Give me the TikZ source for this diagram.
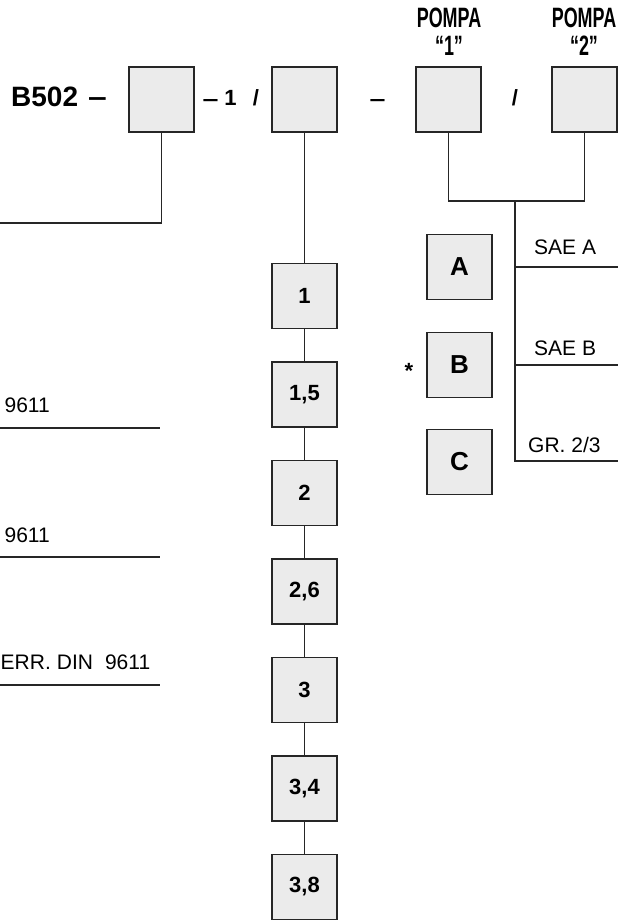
\documentclass[tikz,border=0pt]{standalone}
\usepackage{fontspec}
\setmainfont{Liberation Sans}
\begin{document}
\begin{tikzpicture}[x=1pt,y=-1pt,
  box/.style={draw=black!85, line width=1.8pt, fill=black!8, minimum size=65pt, inner sep=0pt, font=\bfseries\fontsize{22}{22}\selectfont},
  ln/.style={line width=1.8pt, draw=black!85},
  lbl/.style={inner sep=0pt, font=\fontsize{21}{21}\selectfont},
  blbl/.style={inner sep=0pt, font=\bfseries\fontsize{28}{28}\selectfont},
  dlbl/.style={inner sep=0pt, font=\bfseries\fontsize{22}{22}\selectfont},
  pompa/.style={inner sep=0pt, xscale=0.64, font=\bfseries\fontsize{28}{28}\selectfont}]
\useasboundingbox (0,0) rectangle (618,920);
% top row
\node[box] (b1) at (161.5,99.5) {};
\node[box] (b2) at (304.5,99.5) {};
\node[box] (b3) at (448.5,99.5) {};
\node[box] (b4) at (584.5,99.5) {};
\node[blbl, anchor=base west] (t0) at (11,107) {B502};
\node[blbl, anchor=base, xscale=1.2] (d0) at (97.5,107) {–};
\node[dlbl, anchor=base, xscale=1.3] (d1) at (210.5,107) {–};
\node[dlbl, anchor=base] (d1b) at (230.5,106) {1};
\node[dlbl, anchor=base] (d1c) at (256,106) {/};
\node[dlbl, anchor=base, xscale=1.3] (t2) at (377.5,107) {–};
\node[dlbl, anchor=base] (t3) at (515,106) {/};
\node[pompa] (p1) at (449,17.5) {POMPA};
\node[pompa] (q1) at (449,46) {“1”};
\node[pompa] (p2) at (584,17.5) {POMPA};
\node[pompa] (q2) at (584,46) {“2”};
% column
\foreach \n/\t [count=\i from 0] in {c1/1,c2/{1,5},c3/2,c4/{2,6},c5/3,c6/{3,4},c7/{3,8}}
  \node[box] (\n) at (304.5,296+98.5*\i) {\t};
\draw[ln] (b2.south) -- (c1.north);
\foreach \a/\b in {c1/c2,c2/c3,c3/c4,c4/c5,c5/c6,c6/c7}
  \draw[ln] (\a.south) -- (\b.north);
% b1 connector
\coordinate (l0) at (0,223);
\draw[ln] (b1.south) |- (l0);
% left lines
\coordinate (la1) at (0,428); \coordinate (lb1) at (160,428);
\coordinate (la2) at (0,557); \coordinate (lb2) at (160,557);
\coordinate (la3) at (0,685); \coordinate (lb3) at (160,685);
\draw[ln] (la1) -- (lb1);
\draw[ln] (la2) -- (lb2);
\draw[ln] (la3) -- (lb3);
\node[lbl, anchor=base east] (s1) at (50,412) {9611};
\node[lbl, anchor=base east] (s2) at (50,542) {9611};
\node[lbl, anchor=base west] (s3) at (0.5,669) {ERR.\hspace{6pt}DIN\hspace{12pt}9611};
% pumps
\coordinate (j) at (515,201);
\draw[ln] (b3.south) |- (j) -| (b4.south);
\coordinate (ra) at (618,267); \coordinate (rb) at (618,365); \coordinate (rc) at (618,461);
\coordinate (ja) at (515,267); \coordinate (jb) at (515,365); \coordinate (jc) at (515,461);
\draw[ln] (j) -- (jc) -- (rc);
\draw[ln] (ja) -- (ra);
\draw[ln] (jb) -- (rb);
\node[lbl, anchor=base west] (sa) at (534,254) {SAE A};
\node[lbl, anchor=base west] (sb) at (534,355) {SAE B};
\node[lbl, anchor=base west] (sc) at (528,452) {GR. 2/3};
\node[box, font=\bfseries\fontsize{26}{26}\selectfont] (A) at (459.5,267) {A};
\node[box, font=\bfseries\fontsize{26}{26}\selectfont] (B) at (459.5,365) {B};
\node[box, font=\bfseries\fontsize{26}{26}\selectfont] (C) at (459.5,462) {C};
\node[inner sep=0pt, font=\bfseries\fontsize{22}{22}\selectfont] (star) at (409,371) {*};
\end{tikzpicture}
\end{document}
